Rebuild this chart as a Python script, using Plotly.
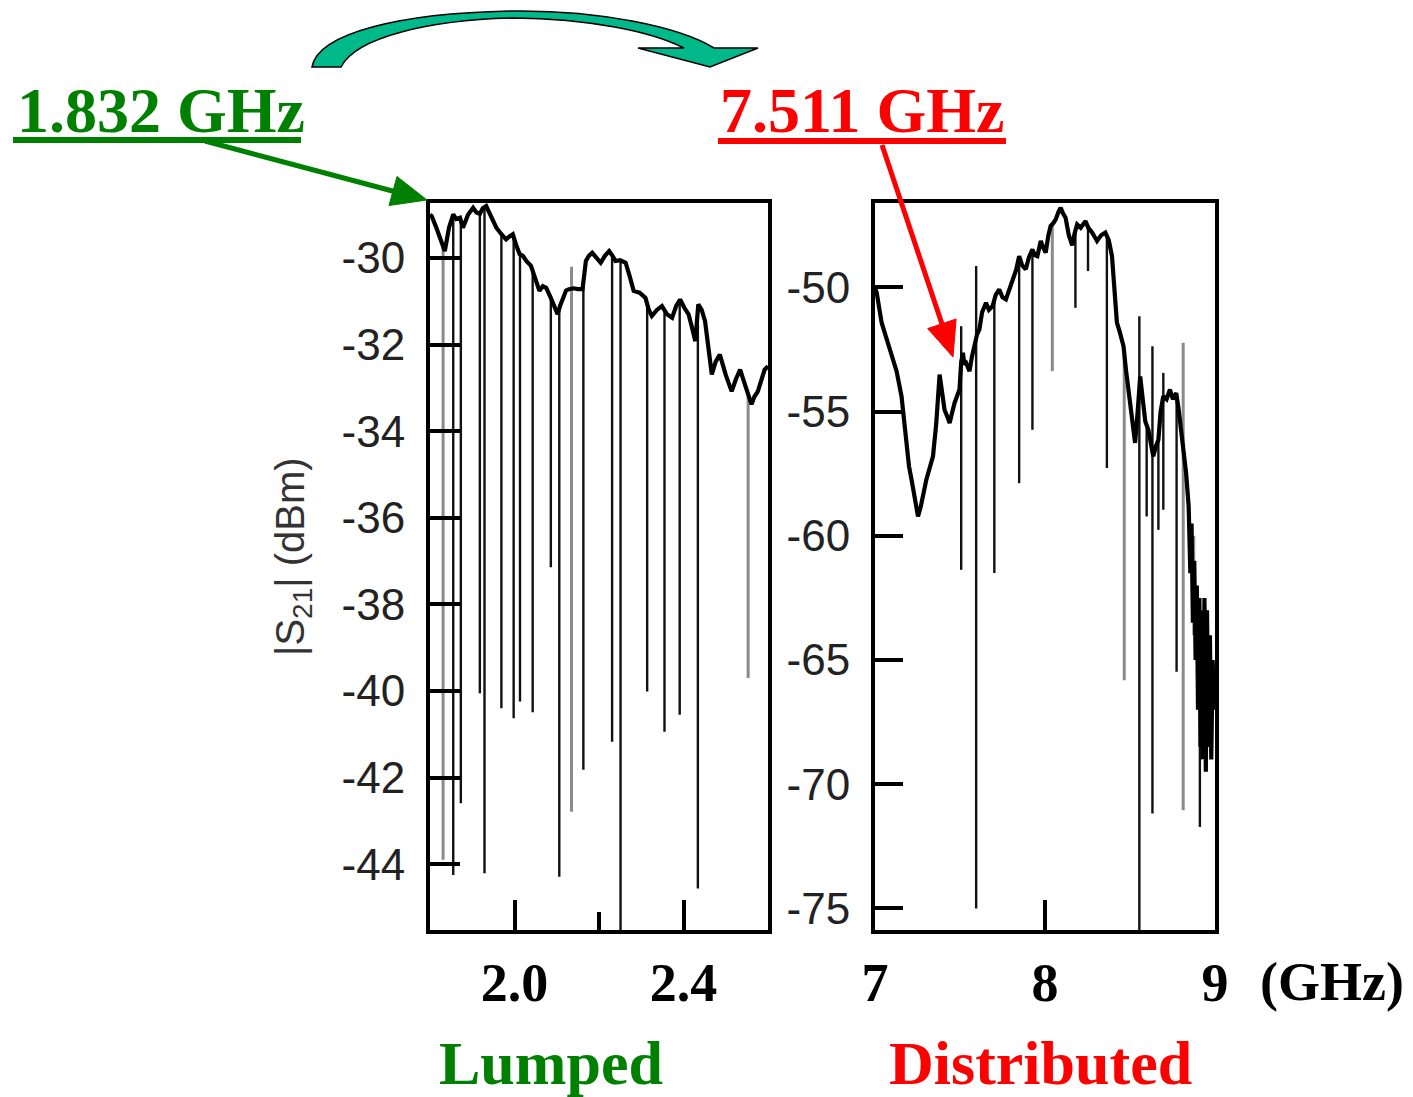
import numpy as np
import plotly.graph_objects as go

# ---------------- data ----------------
L_base_f = [1.800, 1.804, 1.815, 1.825, 1.835, 1.845, 1.855, 1.862, 1.871, 1.878, 1.890, 1.902, 1.910, 1.918,
            1.925, 1.933, 1.945, 1.957, 1.969, 1.980, 1.988, 1.996, 2.004, 2.012, 2.020, 2.028, 2.039, 2.050,
            2.059, 2.067, 2.075, 2.086, 2.094, 2.102, 2.108, 2.114, 2.122, 2.129, 2.140, 2.150, 2.161, 2.169,
            2.176, 2.184, 2.194, 2.204, 2.214, 2.224, 2.232, 2.239, 2.250, 2.263, 2.272, 2.282, 2.296, 2.310,
            2.318, 2.325, 2.337, 2.349, 2.361, 2.373, 2.383, 2.392, 2.402, 2.412, 2.420, 2.428, 2.435, 2.443,
            2.451, 2.459, 2.467, 2.476, 2.486, 2.500, 2.514, 2.524, 2.534, 2.548, 2.561, 2.568, 2.576, 2.585,
            2.592, 2.600]
L_base_v = [-29.00, -29.03, -29.30, -29.60, -29.84, -29.30, -28.99, -29.10, -29.07, -29.30, -29.00, -28.84,
            -28.95, -28.98, -28.85, -28.80, -29.07, -29.30, -29.45, -29.57, -29.50, -29.45, -29.70, -29.91,
            -29.95, -30.07, -30.18, -30.50, -30.76, -30.65, -30.69, -30.92, -31.10, -31.30, -31.10, -30.92,
            -30.75, -30.72, -30.70, -30.72, -30.72, -30.07, -29.95, -29.88, -30.00, -30.11, -29.95, -29.84,
            -29.95, -30.07, -30.05, -30.11, -30.40, -30.76, -30.80, -30.92, -31.20, -31.34, -31.20, -31.11,
            -31.30, -31.38, -31.10, -30.96, -31.15, -31.30, -31.60, -31.92, -31.07, -31.20, -31.46, -32.10,
            -32.69, -32.40, -32.23, -32.70, -33.08, -32.80, -32.58, -33.00, -33.38, -33.20, -33.08, -32.80,
            -32.58, -32.50]

# resonance dips: frequency, lowest value, optional upper end, grey or black
L_spike_f = [1.831, 1.855, 1.873, 1.918, 1.929, 1.969, 1.998, 2.013, 2.043, 2.086, 2.106, 2.135, 2.163,
             2.231, 2.251, 2.314, 2.355, 2.391, 2.434, 2.553]
L_spike_low = [-43.90, -44.25, -42.59, -40.05, -44.21, -40.40, -40.63, -40.24, -40.49, -37.14, -44.29,
               -42.79, -41.82, -41.17, -45.60, -40.01, -40.94, -40.55, -44.56, -39.70]
L_spike_high = [None, None, None, None, None, None, None, None, None, None, None, -30.20, None,
                None, None, None, None, None, None, None]
L_spike_grey = [True, False, False, False, False, False, False, False, False, False, False, True, False,
                False, False, False, False, False, False, True]

R_base_f = [7.000, 7.010, 7.039, 7.065, 7.088, 7.110, 7.127, 7.156, 7.170, 7.185, 7.200, 7.215, 7.235, 7.253,
            7.270, 7.302, 7.341, 7.360, 7.380, 7.395, 7.409, 7.425, 7.439, 7.455, 7.468, 7.497, 7.507, 7.517,
            7.526, 7.536, 7.556, 7.570, 7.585, 7.600, 7.614, 7.630, 7.653, 7.670, 7.692, 7.710, 7.731, 7.750,
            7.770, 7.790, 7.809, 7.830, 7.848, 7.865, 7.887, 7.905, 7.926, 7.940, 7.955, 7.975, 7.990, 8.004,
            8.020, 8.033, 8.050, 8.063, 8.080, 8.092, 8.105, 8.121, 8.140, 8.160, 8.175, 8.189, 8.210, 8.238,
            8.255, 8.277, 8.306, 8.330, 8.355, 8.375, 8.394, 8.410, 8.423, 8.440, 8.462, 8.476, 8.491, 8.510,
            8.530, 8.545, 8.560, 8.575, 8.590, 8.608, 8.622, 8.637, 8.652, 8.667, 8.680, 8.696, 8.715, 8.735,
            8.752, 8.772, 8.786, 8.801, 8.815, 8.830, 8.845, 8.855, 8.862, 8.870, 8.878, 8.886, 8.893, 8.900,
            8.908, 8.915, 8.922, 8.930, 8.938, 8.946, 8.953, 8.962, 8.970, 8.978, 8.986, 8.995]
R_base_v = [-50.00, -50.21, -51.42, -52.00, -52.50, -53.00, -53.37, -54.38, -55.40, -56.53, -57.20, -57.74,
            -58.60, -59.22, -58.80, -57.74, -56.80, -55.50, -53.51, -54.30, -54.92, -55.20, -55.46, -55.00,
            -54.65, -54.11, -53.00, -52.63, -53.10, -53.04, -53.37, -52.80, -52.37, -51.90, -51.69, -51.00,
            -50.62, -50.90, -50.75, -50.30, -50.08, -50.40, -50.48, -50.10, -49.81, -49.30, -48.74, -49.10,
            -49.27, -48.80, -48.47, -48.70, -48.74, -48.13, -48.40, -48.60, -47.90, -47.53, -47.40, -47.26,
            -46.95, -46.79, -47.00, -47.19, -47.90, -48.30, -47.80, -47.46, -47.60, -47.33, -47.60, -47.79,
            -48.13, -47.90, -47.79, -48.10, -48.74, -50.00, -51.42, -51.80, -52.37, -53.30, -54.11, -55.20,
            -56.26, -55.00, -53.58, -54.50, -55.40, -55.73, -56.20, -56.80, -56.40, -56.13, -55.00, -54.38,
            -54.50, -54.11, -54.50, -54.25, -54.90, -55.73, -56.50, -57.47, -58.80, -61.50, -59.50, -63.50,
            -61.00, -65.00, -62.00, -67.00, -62.50, -68.50, -63.00, -69.00, -62.50, -69.50, -63.00, -68.50,
            -64.00, -69.00, -65.00, -67.00]

R_spike_f = [7.507, 7.595, 7.702, 7.848, 7.926, 8.043, 8.179, 8.253, 8.364, 8.466, 8.555, 8.598, 8.632,
             8.667, 8.696, 8.774, 8.813, 8.875, 8.911]
R_spike_low = [-61.37, -75.00, -61.50, -57.88, -55.73, -53.37, -50.82, -49.34, -57.27, -65.81, -76.00,
               -59.22, -71.18, -59.76, -58.95, -65.47, -71.05, -64.00, -71.72]
R_spike_high = [-51.56, -49.14, None, None, None, None, None, None, None, None, -51.16, None, -52.37,
                None, -53.44, None, -52.23, -60.00, None]
R_spike_grey = [False, False, False, False, False, True, False, False, False, True, False, False, False,
                False, False, False, True, True, False]

L_xticks = [2.0, 2.4]
L_xticklabels = ["2.0", "2.4"]
L_yticks = [-30, -32, -34, -36, -38, -40, -42, -44]
R_xticks = [7, 8, 9]
R_xticklabels = ["7", "8", "9"]
R_yticks = [-50, -55, -60, -65, -70, -75]

# ---------------- layout geometry ----------------
W, H = 1413, 1097
ML, MR, MT, MB = 430, 198, 203, 167
PW, PH = W - ML - MR, H - MT - MB


def px(x):
    return (x - ML) / PW


def py(y):
    return (H - MB - y) / PH


GREEN = "#008000"
RED = "#FF0000"
SERIF = "Liberation Serif"
SANS = "Liberation Sans"


def spike_xy(fs, lows, highs, greys, bf, bv, want_grey):
    xs, ys = [], []
    for f, lo, hi, g in zip(fs, lows, highs, greys):
        if g != want_grey:
            continue
        top = float(np.interp(f, bf, bv))
        if hi is not None:
            top = max(top, hi)
        xs += [f, f, None]
        ys += [top, lo, None]
    return xs, ys


fig = go.Figure()

for (fs, lows, highs, greys, bf, bv, xa, ya) in [
        (L_spike_f, L_spike_low, L_spike_high, L_spike_grey, L_base_f, L_base_v, "x", "y"),
        (R_spike_f, R_spike_low, R_spike_high, R_spike_grey, R_base_f, R_base_v, "x2", "y2")]:
    gx, gy = spike_xy(fs, lows, highs, greys, bf, bv, True)
    fig.add_trace(go.Scatter(x=gx, y=gy, mode="lines", line=dict(color="#8a8a8a", width=3),
                             xaxis=xa, yaxis=ya, showlegend=False, hoverinfo="skip"))
    kx, ky = spike_xy(fs, lows, highs, greys, bf, bv, False)
    fig.add_trace(go.Scatter(x=kx, y=ky, mode="lines", line=dict(color="#111111", width=2.4),
                             xaxis=xa, yaxis=ya, showlegend=False, hoverinfo="skip"))
    fig.add_trace(go.Scatter(x=bf, y=bv, mode="lines", line=dict(color="black", width=4.2),
                             xaxis=xa, yaxis=ya, showlegend=False))

axis_common = dict(showline=True, linewidth=4, linecolor="black", mirror=True, showgrid=False,
                   zeroline=False, ticks="inside", tickcolor="black", tickwidth=4)

fig.update_layout(
    width=W, height=H,
    margin=dict(l=ML, r=MR, t=MT, b=MB, pad=0),
    paper_bgcolor="white", plot_bgcolor="white",
    xaxis=dict(domain=[0, px(768)], range=[1.8, 2.6], anchor="y",
               tickvals=L_xticks, ticktext=L_xticklabels, ticklen=30,
               minor=dict(tickvals=[1.8, 2.2], ticklen=18, tickwidth=4, ticks="inside",
                          tickcolor="black", showgrid=False),
               tickfont=dict(family=SERIF, size=54, color="black", weight="bold"),
               ticklabelstandoff=2, **axis_common),
    yaxis=dict(domain=[0, 1], range=[-45.52, -28.73], anchor="x",
               tickvals=L_yticks, ticktext=[str(v) for v in L_yticks], ticklen=30,
               tickfont=dict(family=SANS, size=44, color="#222222"),
               ticklabelstandoff=12, **axis_common),
    xaxis2=dict(domain=[px(875), 1], range=[7, 9], anchor="y2",
                tickvals=R_xticks, ticktext=R_xticklabels, ticklen=30,
                tickfont=dict(family=SERIF, size=54, color="black", weight="bold"),
                ticklabelstandoff=2, **axis_common),
    yaxis2=dict(domain=[0, 1], range=[-75.87, -46.60], anchor="x2",
                tickvals=R_yticks, ticktext=[str(v) for v in R_yticks], ticklen=28,
                tickfont=dict(family=SANS, size=44, color="#222222"),
                ticklabelstandoff=12, **axis_common),
)

annotations = [
    dict(text="1.832 GHz", x=px(15), y=py(111), xanchor="left", yanchor="middle",
         font=dict(family=SERIF, size=64, color=GREEN, weight="bold")),
    dict(text="7.511 GHz", x=px(718), y=py(111), xanchor="left", yanchor="middle",
         font=dict(family=SERIF, size=64, color=RED, weight="bold")),
    dict(text="Lumped", x=px(551), y=py(1063), xanchor="center", yanchor="middle",
         font=dict(family=SERIF, size=62, color=GREEN, weight="bold")),
    dict(text="Distributed", x=px(1040), y=py(1063), xanchor="center", yanchor="middle",
         font=dict(family=SERIF, size=62, color=RED, weight="bold")),
    dict(text="(GHz)", x=px(1332), y=py(982), xanchor="center", yanchor="middle",
         font=dict(family=SERIF, size=54, color="black", weight="bold")),
    dict(text="|S<sub>21</sub>| (dBm)", x=px(293), y=py(557), xanchor="center", yanchor="middle",
         textangle=-90, font=dict(family=SANS, size=40, color="#333333")),
]
for a in annotations:
    a.update(xref="paper", yref="paper", showarrow=False)
fig.update_layout(annotations=annotations)


def path(points, closed=True):
    s = ""
    for cmd, coords in points:
        s += cmd + " " + " ".join(f"{px(coords[j]):.5f},{py(coords[j+1]):.5f}"
                                   for j in range(0, len(coords), 2)) + " "
    return s + ("Z" if closed else "")


shapes = []
# underlines
shapes.append(dict(type="line", xref="paper", yref="paper", x0=px(13), x1=px(301), y0=py(140), y1=py(140),
                   line=dict(color=GREEN, width=6)))
shapes.append(dict(type="line", xref="paper", yref="paper", x0=px(718), x1=px(1006), y0=py(141), y1=py(141),
                   line=dict(color=RED, width=6)))
# green arrow
shapes.append(dict(type="line", xref="paper", yref="paper", x0=px(205), y0=py(141), x1=px(400), y1=py(193),
                   line=dict(color=GREEN, width=5)))
shapes.append(dict(type="path", xref="paper", yref="paper",
                   path=path([("M", (427, 200)), ("L", (397, 176.5)), ("L", (389, 205.5))]),
                   fillcolor=GREEN, line=dict(color=GREEN, width=1)))
# red arrow
shapes.append(dict(type="line", xref="paper", yref="paper", x0=px(882), y0=py(145), x1=px(945), y1=py(333),
                   line=dict(color=RED, width=5)))
shapes.append(dict(type="path", xref="paper", yref="paper",
                   path=path([("M", (953, 357)), ("L", (927.7, 328.6)), ("L", (956.1, 319.0))]),
                   fillcolor=RED, line=dict(color=RED, width=1)))
# curved teal arrow
arc = path([("M", (312, 67)), ("C", (318, 33, 400, 13, 513, 11)), ("C", (600, 10, 680, 27, 714, 48)),
            ("L", (758, 48)), ("L", (710, 67)), ("L", (638, 48)), ("L", (684, 48)),
            ("C", (650, 31, 590, 19, 513, 18)), ("C", (430, 20, 356, 37, 341, 67))])
shapes.append(dict(type="path", xref="paper", yref="paper", path=arc,
                   fillcolor="#00B98B", line=dict(color="black", width=1.5)))
fig.update_layout(shapes=shapes)

fig.write_html("out.html")
